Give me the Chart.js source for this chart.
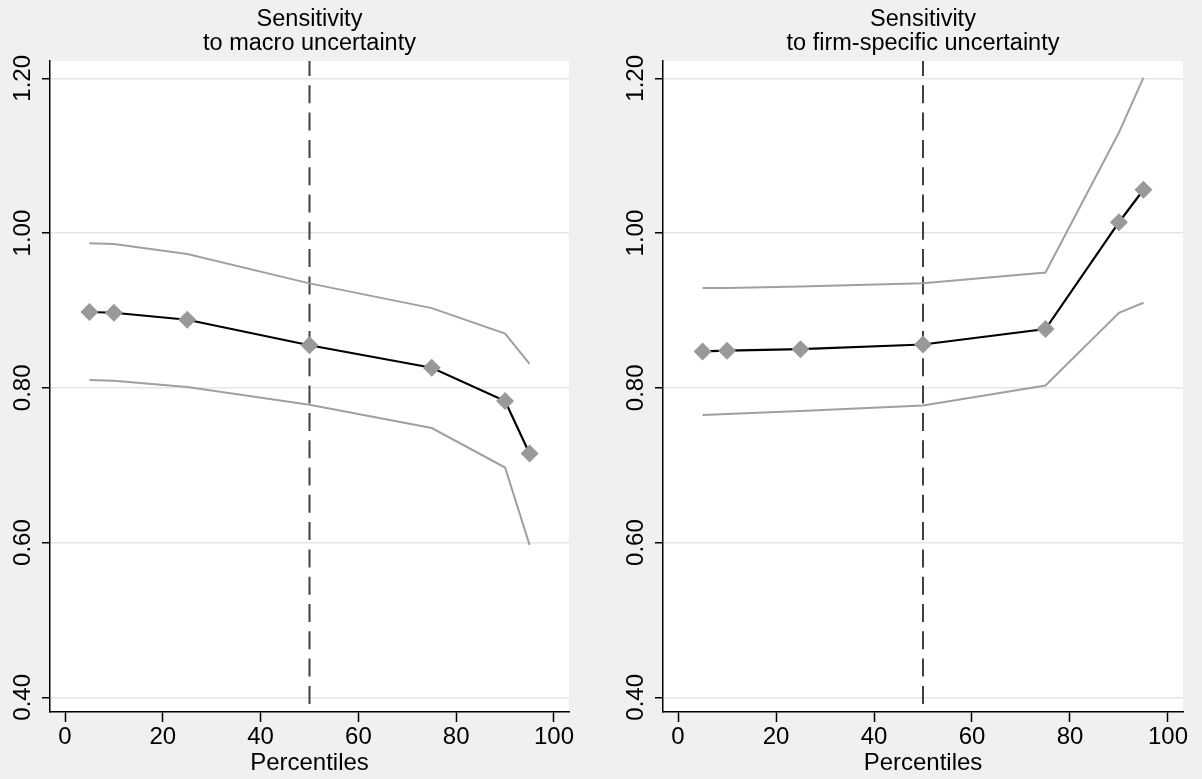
<!DOCTYPE html>
<html>
<head>
<meta charset="utf-8">
<script src="https://cdn.jsdelivr.net/npm/chart.js@4.4.1/dist/chart.umd.min.js"></script>
<style>
  html, body { margin: 0; padding: 0; background: #f0f0f0; }
  #wrap { position: relative; width: 1202px; height: 779px; background: #f0f0f0; }
  .panel { position: absolute; top: 0; width: 601px; height: 779px; }
</style>
</head>
<body>
<div id="wrap">
  <div class="panel" style="left:0"><canvas id="c1" width="601" height="779"></canvas></div>
  <div class="panel" style="left:601px"><canvas id="c2" width="601" height="779"></canvas></div>
</div>
<script>
// ---- data ----
const percentiles = [5, 10, 25, 50, 75, 90, 95];
const macroEstimate = [0.898, 0.897, 0.888, 0.855, 0.826, 0.783, 0.715];
const macroUpper    = [0.987, 0.986, 0.973, 0.935, 0.903, 0.870, 0.831];
const macroLower    = [0.810, 0.809, 0.801, 0.778, 0.748, 0.697, 0.597];
const firmEstimate  = [0.847, 0.848, 0.850, 0.856, 0.876, 1.014, 1.056];
const firmUpper     = [0.929, 0.929, 0.931, 0.935, 0.949, 1.130, 1.201];
const firmLower     = [0.765, 0.766, 0.770, 0.777, 0.803, 0.897, 0.910];
const yTicks = [0.40, 0.60, 0.80, 1.00, 1.20];
const xTicks = [0, 20, 40, 60, 80, 100];
const medianLine = 50;
const titles = {
  macro: ["Sensitivity", "to macro uncertainty"],
  firm: ["Sensitivity", "to firm-specific uncertainty"]
};
const xLabel = "Percentiles";

const Y_MIN = 0.381, Y_MAX = 1.2224, X_MIN = -3.07, X_MAX = 103.07;
const FONT = "'Liberation Sans', Arial, Helvetica, sans-serif";

function pts(xs, ys) { return xs.map((x, i) => ({ x: x, y: ys[i] })); }

const panelPlugin = {
  id: 'panelPlugin',
  beforeDraw(chart) {
    const { ctx, chartArea: a } = chart;
    ctx.save();
    ctx.fillStyle = '#ffffff';
    ctx.fillRect(a.left, a.top, a.right - a.left, a.bottom - a.top);
    ctx.restore();
  },
  afterDraw(chart, args, opts) {
    const { ctx, chartArea: a } = chart;
    const ys = chart.scales.y;
    ctx.save();
    ctx.fillStyle = '#000';
    // rotated y tick labels
    ctx.font = '24px ' + FONT;
    ctx.textAlign = 'center';
    ctx.textBaseline = 'middle';
    yTicks.forEach(v => {
      const py = ys.getPixelForValue(v);
      ctx.save();
      ctx.translate(a.left - 28, py);
      ctx.rotate(-Math.PI / 2);
      ctx.fillText(v.toFixed(2), 0, 1);
      ctx.restore();
    });
    // title
    ctx.font = '23.5px ' + FONT;
    const cx = (a.left + a.right) / 2;
    ctx.fillText(opts.lines[0], cx, 20);
    ctx.fillText(opts.lines[1], cx, 44);
    ctx.restore();
  }
};

function makeChart(id, est, up, lo, lines, yAxisWidth, padRight) {
  return new Chart(document.getElementById(id), {
    type: 'scatter',
    data: {
      datasets: [
        { data: pts(percentiles, est), showLine: true, borderColor: '#000', borderWidth: 2.2,
          pointStyle: 'rectRot', pointRadius: 9, pointBackgroundColor: '#999999',
          pointBorderWidth: 0, tension: 0 },
        { data: pts(percentiles, up), showLine: true, borderColor: '#a0a0a0', borderWidth: 2,
          pointRadius: 0, tension: 0 },
        { data: pts(percentiles, lo), showLine: true, borderColor: '#a0a0a0', borderWidth: 2,
          pointRadius: 0, tension: 0 },
        { data: [{ x: medianLine, y: Y_MAX }, { x: medianLine, y: Y_MIN }], showLine: true,
          borderColor: '#404040', borderWidth: 2, borderDash: [18, 9.3], borderDashOffset: 3,
          pointRadius: 0 }
      ]
    },
    options: {
      responsive: false,
      animation: false,
      events: [],
      layout: { padding: { left: 0, right: padRight, top: 61, bottom: 0 } },
      plugins: {
        legend: { display: false },
        tooltip: { enabled: false },
        title: { display: false },
        panelPlugin: { lines: lines }
      },
      scales: {
        x: {
          type: 'linear', min: X_MIN, max: X_MAX,
          afterBuildTicks: s => { s.ticks = xTicks.map(v => ({ value: v })); },
          afterFit: s => { s.height = 67; },
          grid: { display: true, drawOnChartArea: false, drawTicks: true, tickLength: 10,
                  tickColor: '#000', tickWidth: 1.5 },
          border: { display: true, color: '#000', width: 1.5 },
          ticks: { color: '#000', font: { size: 24, family: FONT }, padding: 1,
                   maxRotation: 0, autoSkip: false, callback: v => String(v) },
          title: { display: true, text: xLabel, color: '#000', font: { size: 24, family: FONT },
                   padding: { top: 0, bottom: 1 } }
        },
        y: {
          type: 'linear', min: Y_MIN, max: Y_MAX,
          afterBuildTicks: s => { s.ticks = yTicks.map(v => ({ value: v })); },
          afterFit: s => { s.width = yAxisWidth; },
          grid: { display: true, drawOnChartArea: true, drawTicks: true, tickLength: 8,
                  color: '#e6e6e6', lineWidth: 1.5, tickColor: '#000', tickWidth: 1.5 },
          border: { display: true, color: '#000', width: 1.5 },
          ticks: { display: false }
        }
      }
    },
    plugins: [panelPlugin]
  });
}

makeChart('c1', macroEstimate, macroUpper, macroLower, titles.macro, 50, 32);
makeChart('c2', firmEstimate, firmUpper, firmLower, titles.firm, 62, 19);
</script>
</body>
</html>
